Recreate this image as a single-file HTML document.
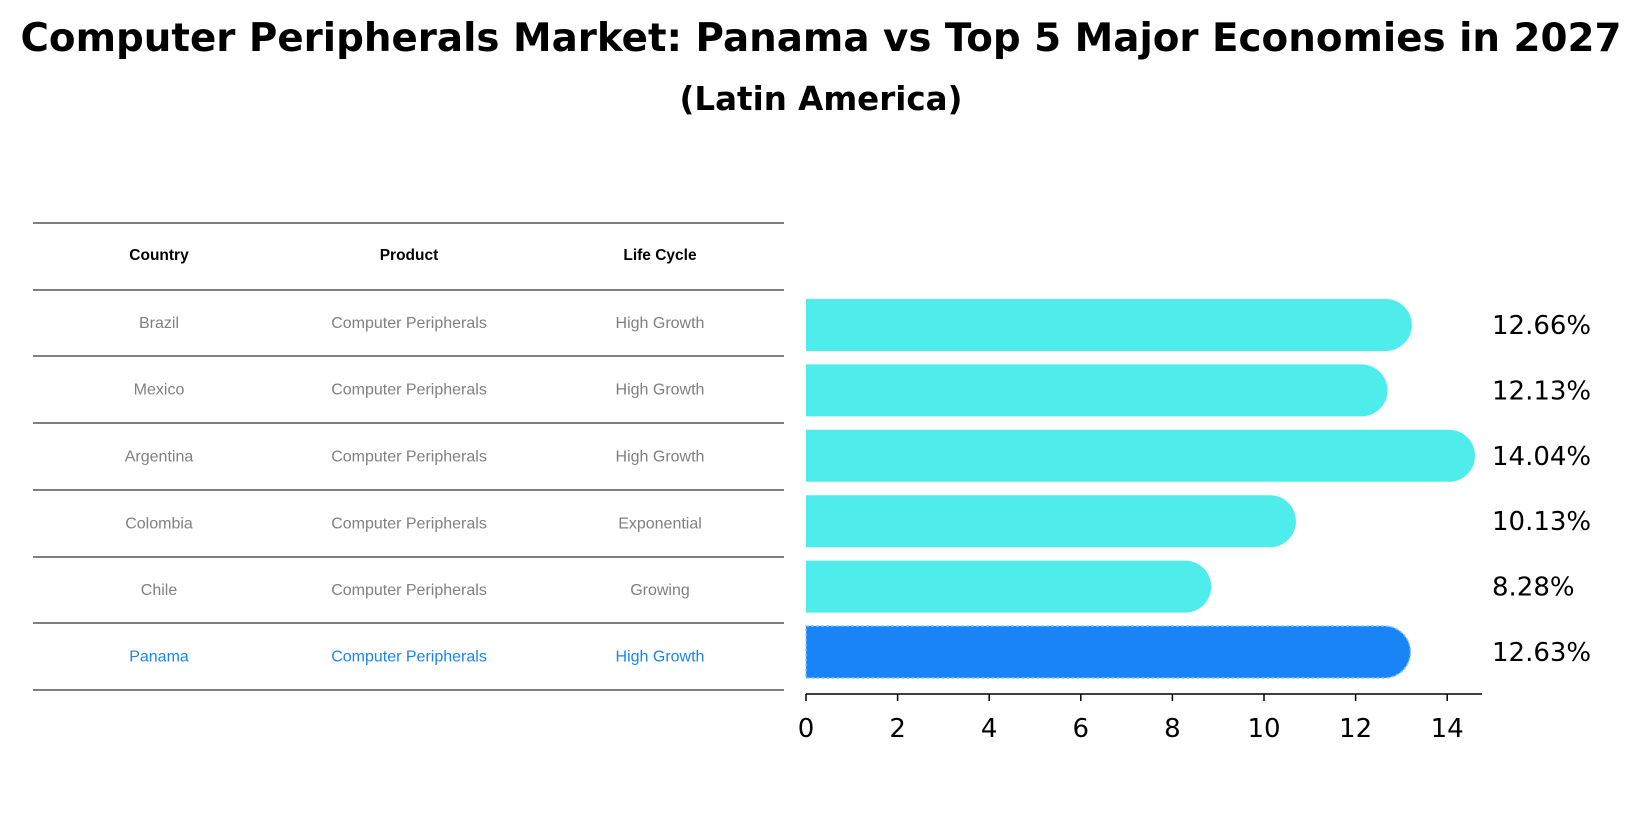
<!DOCTYPE html>
<html><head><meta charset="utf-8"><style>
body{margin:0;background:#fff;font-family:"Liberation Sans","DejaVu Sans",sans-serif;}
#root{position:relative;width:1642px;height:823px;overflow:hidden;}
.t{position:absolute;white-space:nowrap;}
</style></head><body><div id="root">
<div class="t" style="left:0;width:1642px;text-align:center;top:16px;font-size:38.8px;font-weight:bold;font-family:'DejaVu Sans',sans-serif;">Computer Peripherals Market: Panama vs Top 5 Major Economies in 2027</div>
<div class="t" style="left:0;width:1642px;text-align:center;top:80px;font-size:32.5px;font-weight:bold;font-family:'DejaVu Sans',sans-serif;">(Latin America)</div>
<svg id="svg" width="1642" height="823" style="position:absolute;left:0;top:0"></svg>
</div>
<script>
const countries=["Brazil","Mexico","Argentina","Colombia","Chile","Panama"];
const products=["Computer Peripherals","Computer Peripherals","Computer Peripherals","Computer Peripherals","Computer Peripherals","Computer Peripherals"];
const lifecycles=["High Growth","High Growth","High Growth","Exponential","Growing","High Growth"];
const values=[12.66,12.13,14.04,10.13,8.28,12.63];
const ticks=[0,2,4,6,8,10,12,14];
const svg=document.getElementById('svg');
const NS='http://www.w3.org/2000/svg';
function mk(tag,attrs,text){const e=document.createElementNS(NS,tag);for(const k in attrs)e.setAttribute(k,attrs[k]);if(text!==undefined)e.textContent=text;svg.appendChild(e);return e;}
const x0=806,xs=45.8;
const xScale=v=>x0+v*xs;
const rowY=i=>325+i*65.4;
const tblLines=[223,290,356,423,490,557,623,690];
const colX=[159,409,660];
tblLines.forEach((y,i)=>{const l=mk('line',{x1:33,x2:784,y1:y,y2:y,stroke:'#000','stroke-width':1});

});
["Country","Product","Life Cycle"].forEach((h,j)=>{const t=mk('text',{x:colX[j],y:260,'text-anchor':'middle','font-size':15.5,'font-weight':'bold','font-family':'Liberation Sans,sans-serif'},h);

});
countries.forEach((c,i)=>{
 const y=(tblLines[i+1]+tblLines[i+2])/2+5;
 const col=i===countries.length-1?'#1984F5':'#808080';
 [c,products[i],lifecycles[i]].forEach((v,j)=>{const t=mk('text',{x:colX[j],y:y,'text-anchor':'middle','font-size':16,fill:col,'font-family':'Liberation Sans,sans-serif'},v);
 
 });
 const h=52,cy=rowY(i),xe=xScale(values[i]);
 const last=i===countries.length-1;
 const fill=last?'#1984F5':'#4EEDEB';
 const b=mk('path',{d:`M${x0},${cy-h/2} L${xe},${cy-h/2} A${h/2},${h/2} 0 0 1 ${xe},${cy+h/2} L${x0},${cy+h/2} Z`,fill:fill,stroke:last?'#7fc8ff':'none','stroke-width':1.5,'stroke-dasharray':last?'3,2':'none'});
 
 
 const lt=mk('text',{x:1492,y:cy+9,'font-size':26,'font-family':'DejaVu Sans,sans-serif'},values[i].toFixed(2)+'%');
 
 
});
const ax=mk('line',{x1:x0,x2:1482,y1:694,y2:694,stroke:'#000','stroke-width':1.5});


ticks.forEach(v=>{const x=xScale(v);
 const tk=mk('line',{x1:x,x2:x,y1:694,y2:701,stroke:'#000','stroke-width':1.5});
 
 
 const tl=mk('text',{x:x,y:737,'text-anchor':'middle','font-size':26,'font-family':'DejaVu Sans,sans-serif'},String(v));
 
 });
</script></body></html>
